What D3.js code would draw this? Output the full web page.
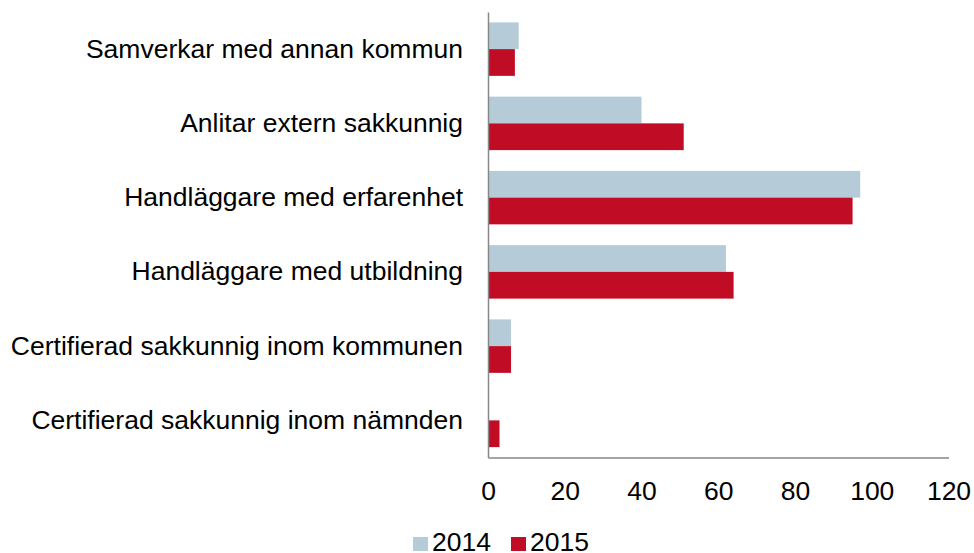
<!DOCTYPE html>
<html>
<head>
<meta charset="utf-8">
<script src="https://cdn.jsdelivr.net/npm/d3@7"></script>
<style>
  body { margin: 0; background: #fff; }
  text { font-family: "Liberation Sans", Arial, sans-serif; fill: #000; }
</style>
</head>
<body>
<script>
// ---------------------- DATA ----------------------
const categories = [
    "Samverkar med annan kommun",
    "Anlitar extern sakkunnig",
    "Handläggare med erfarenhet",
    "Handläggare med utbildning",
    "Certifierad sakkunnig inom kommunen",
    "Certifierad sakkunnig inom nämnden"
];
const seriesNames = ["2014", "2015"];
const values2014 = [8, 40, 97, 62, 6, 0];
const values2015 = [7, 51, 95, 64, 6, 3];
const xTicks = [0, 20, 40, 60, 80, 100, 120];
const colors = ["#b5cbd7", "#c00c24"];

// ---------------------- LAYOUT ----------------------
const width = 974, height = 553;
const margin = {top: 12, right: 25.5, bottom: 95.5, left: 488};
const fontSize = 26.5;

const svg = d3.select("body").append("svg")
    .attr("width", width)
    .attr("height", height);

const x = d3.scaleLinear()
    .domain([0, 120])
    .range([margin.left, width - margin.right]);

const y = d3.scaleBand()
    .domain(categories)
    .range([margin.top, height - margin.bottom])
    .paddingInner(0.28)
    .paddingOuter(0.14);

const ySub = d3.scaleBand()
    .domain(seriesNames)
    .range([0, y.bandwidth()]);

// ---------------------- BARS ----------------------
const rows = categories.map((c, i) => ({cat: c, vals: [values2014[i], values2015[i]]}));

const groups = svg.selectAll(".cat")
    .data(rows)
    .enter().append("g")
    .attr("class", "cat")
    .attr("transform", d => `translate(0,${y(d.cat)})`);

groups.selectAll("rect")
    .data(d => d.vals.map((v, j) => ({series: seriesNames[j], value: v, color: colors[j]})))
    .enter().append("rect")
    .attr("x", x(0))
    .attr("y", d => ySub(d.series))
    .attr("width", d => x(d.value) - x(0))
    .attr("height", ySub.bandwidth())
    .attr("fill", d => d.color);

// ---------------------- AXES ----------------------
const xAxis = d3.axisBottom(x).tickValues(xTicks).tickSize(0).tickPadding(24);
const gx = svg.append("g")
    .attr("transform", `translate(0,${height - margin.bottom})`)
    .call(xAxis);
gx.select(".domain").attr("stroke", "#878787").attr("stroke-width", 1.5);
gx.selectAll("text").attr("font-size", fontSize).style("font-family", "'Liberation Sans', Arial, sans-serif");

const yAxis = d3.axisLeft(y).tickSize(0).tickPadding(25);
const gy = svg.append("g")
    .attr("transform", `translate(${margin.left},0)`)
    .call(yAxis);
gy.select(".domain").attr("stroke", "#878787").attr("stroke-width", 1.5);
gy.selectAll("text").attr("font-size", fontSize).style("font-family", "'Liberation Sans', Arial, sans-serif");

// ---------------------- LEGEND ----------------------
const legendX = [413, 511];
const legend = svg.append("g");
seriesNames.forEach((s, i) => {
    legend.append("rect")
        .attr("x", legendX[i])
        .attr("y", 537)
        .attr("width", 15)
        .attr("height", 14)
        .attr("fill", colors[i]);
    legend.append("text")
        .attr("x", legendX[i] + 19)
        .attr("y", 551)
        .attr("font-size", fontSize)
        .text(s);
});
</script>
</body>
</html>
